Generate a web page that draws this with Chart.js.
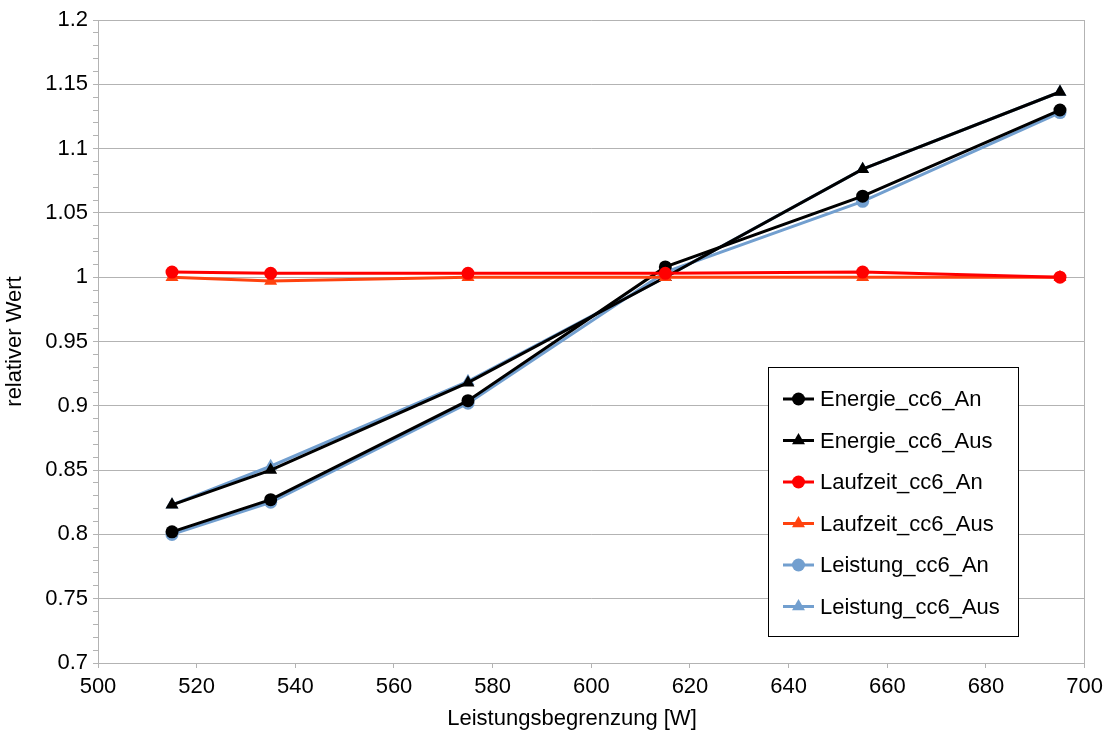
<!DOCTYPE html>
<html>
<head>
<meta charset="utf-8">
<script src="https://cdn.jsdelivr.net/npm/chart.js@4.4.1/dist/chart.umd.min.js"></script>
<style>
    html, body { margin: 0; padding: 0; background: #fff; }
    #wrap { width: 1109px; height: 733px; }
</style>
</head>
<body>
<div id="wrap"><canvas id="lineChart" width="1109" height="733"></canvas></div>
<script>
// power limit in W
const leistungsgrenze = [515, 535, 575, 615, 655, 695];

const energieAn = [0.802, 0.827, 0.904, 1.008, 1.063, 1.130];
const energieAus = [0.823, 0.850, 0.918, 1.000, 1.084, 1.144];
const laufzeitAn = [1.004, 1.003, 1.003, 1.003, 1.004, 1.000];
const laufzeitAus = [1.000, 0.997, 1.000, 1.000, 1.000, 1.000];
const leistungAn = [0.800, 0.825, 0.902, 1.004, 1.059, 1.128];
const leistungAus = [0.823, 0.853, 0.919, 1.000, 1.084, 1.144];

const seriesNames = ["Energie_cc6_An", "Energie_cc6_Aus", "Laufzeit_cc6_An", "Laufzeit_cc6_Aus", "Leistung_cc6_An", "Leistung_cc6_Aus"];
const xTitle = "Leistungsbegrenzung [W]";

const gridColor = "#b3b3b3";
const font = "'Liberation Sans', Arial, sans-serif";
const fontSize = 22;

function points(values) {
    return values.map((v, i) => ({x: leistungsgrenze[i], y: v}));
}

function makeSet(label, values, color, style, order) {
    return {
        label: label,
        data: points(values),
        borderColor: color,
        backgroundColor: color,
        borderWidth: 3,
        pointStyle: style,
        pointRadius: style === "triangle" ? 7.5 : 6.5,
        pointBorderWidth: 0,
        pointHoverRadius: 7,
        tension: 0,
        order: order
    };
}

// legend box inside the plot (bottom right) and the x axis caption
const boxLegend = {
    id: "boxLegend",
    afterDatasetsDraw(chart) {
        const ctx = chart.ctx;
        const sets = chart.data.datasets;
        const left = 768, top = 367, right = 1018, bottom = 636;
        ctx.save();
        ctx.fillStyle = "#fff";
        ctx.fillRect(left, top, right - left, bottom - top);
        ctx.strokeStyle = "#000";
        ctx.lineWidth = 1;
        ctx.strokeRect(left + 0.5, top + 0.5, right - left, bottom - top);
        ctx.font = fontSize + "px " + font;
        ctx.textBaseline = "middle";
        ctx.textAlign = "left";
        for (let i = 0; i < seriesNames.length; i++) {
            const ds = sets.find(d => d.label === seriesNames[i]);
            const y = 399 + i * 41.5;
            ctx.strokeStyle = ds.borderColor;
            ctx.lineWidth = 3;
            ctx.beginPath();
            ctx.moveTo(783, y);
            ctx.lineTo(814, y);
            ctx.stroke();
            ctx.fillStyle = ds.backgroundColor;
            Chart.helpers.drawPoint(ctx, {
                pointStyle: ds.pointStyle,
                radius: ds.pointRadius,
                borderWidth: 0,
                rotation: 0
            }, 798.5, y);
            ctx.fillStyle = "#000";
            ctx.fillText(seriesNames[i], 820, y + 1);
        }

        ctx.textAlign = "center";
        ctx.fillText(xTitle, 572, 719);
        ctx.restore();
    }
};

function fmt(v) {
    return String(parseFloat(v.toFixed(2)));
}

function isMajor(v) {
    return Math.round(v * 100) % 5 === 0;
}

new Chart(document.getElementById("lineChart").getContext("2d"), {
    type: "line",
    data: {
        datasets: [
            makeSet(seriesNames[0], energieAn, "#000000", "circle", 2),
            makeSet(seriesNames[1], energieAus, "#000000", "triangle", 2),
            makeSet(seriesNames[2], laufzeitAn, "#ff0000", "circle", 1),
            makeSet(seriesNames[3], laufzeitAus, "#ff420e", "triangle", 1),
            makeSet(seriesNames[4], leistungAn, "#729fcf", "circle", 3),
            makeSet(seriesNames[5], leistungAus, "#729fcf", "triangle", 3)
        ]
    },
    options: {
        responsive: false,
        animation: false,
        layout: {padding: {top: 20, right: 24, left: 0, bottom: 0}},
        plugins: {
            legend: {display: false},
            tooltip: {enabled: false}
        },
        scales: {
            x: {
                type: "linear",
                min: 500,
                max: 700,
                afterFit: (s) => { s.height = 70; },
                border: {display: true, color: gridColor, width: 1},
                grid: {
                    color: (c) => (c.tick && c.tick.value === 700) ? gridColor : "rgba(0,0,0,0)",
                    tickColor: gridColor,
                    tickLength: 5
                },
                ticks: {
                    stepSize: 20,
                    color: "#000",
                    padding: 6,
                    maxRotation: 0,
                    font: {family: font, size: fontSize}
                }
            },
            y: {
                min: 0.7,
                max: 1.2,
                afterFit: (s) => { s.width = 98; },
                border: {display: true, color: gridColor, width: 1},
                grid: {
                    color: (c) => (c.tick && isMajor(c.tick.value)) ? gridColor : "rgba(0,0,0,0)",
                    tickColor: gridColor,
                    tickLength: 5
                },
                ticks: {
                    stepSize: 0.01,
                    maxTicksLimit: 60,
                    autoSkip: false,
                    color: "#000",
                    padding: 5,
                    font: {family: font, size: fontSize},
                    callback: (v) => isMajor(v) ? fmt(v) : ""
                },
                title: {
                    display: true,
                    text: "relativer Wert",
                    color: "#000",
                    padding: {top: 2, bottom: 0},
                    font: {family: font, size: fontSize}
                }
            }
        }
    },
    plugins: [boxLegend]
});
</script>
</body>
</html>
